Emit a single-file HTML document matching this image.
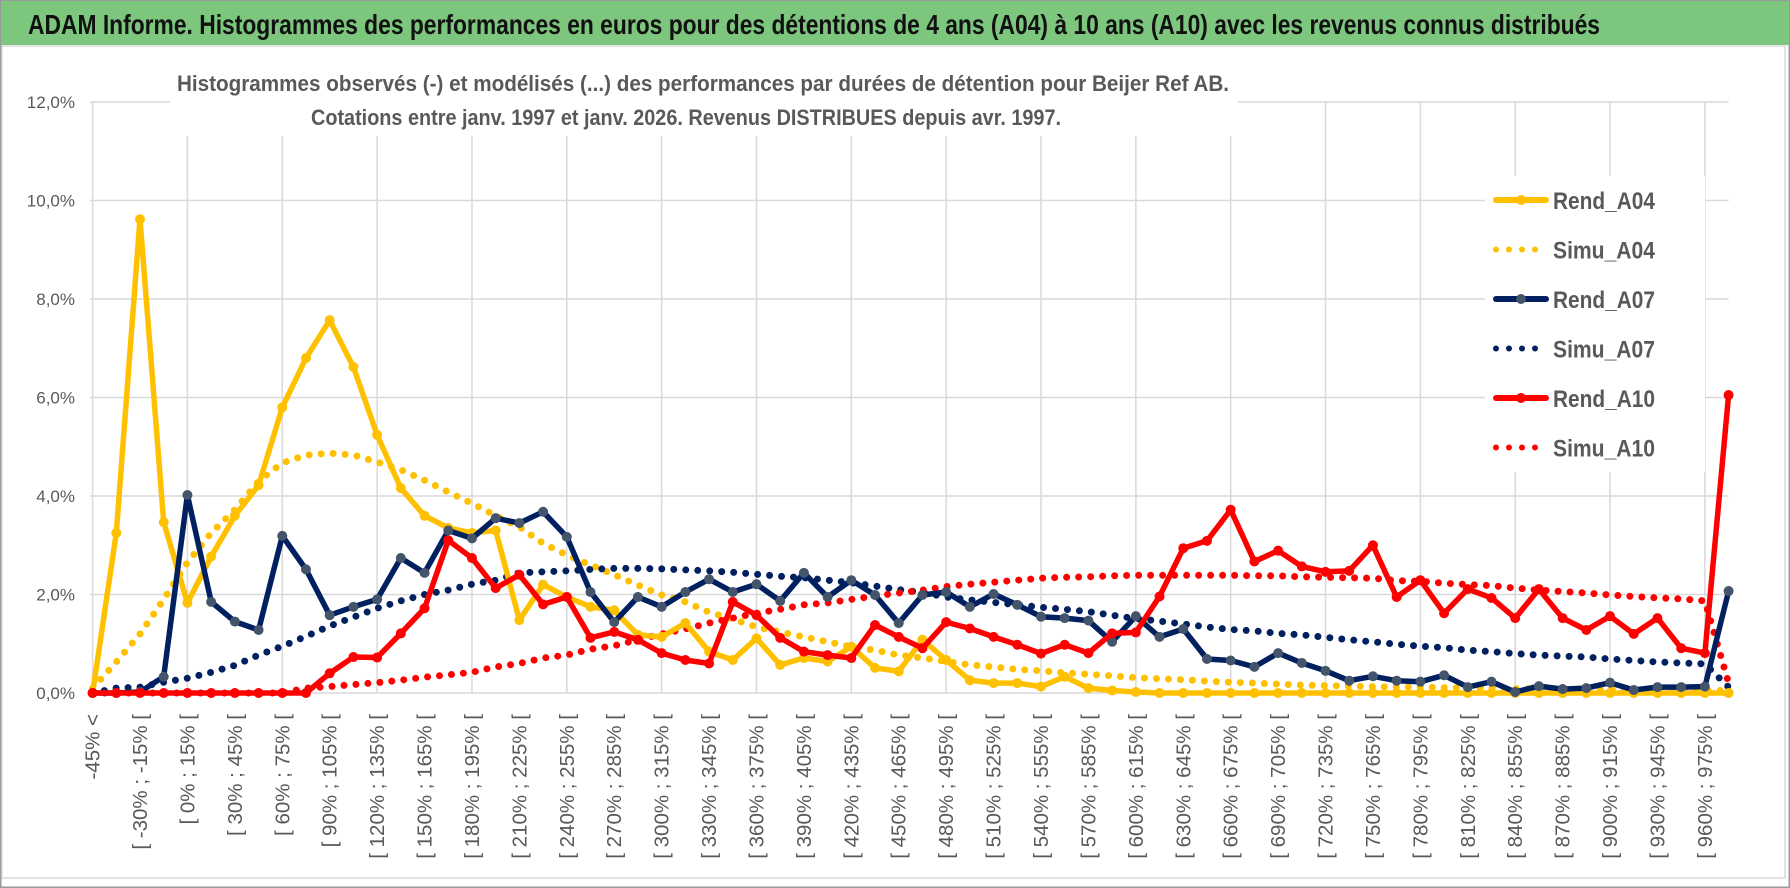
<!DOCTYPE html>
<html><head><meta charset="utf-8"><style>
html,body{margin:0;padding:0;background:#fff;}
svg{display:block;font-family:"Liberation Sans Narrow","Liberation Sans",sans-serif;}
</style></head><body>
<svg id="chart" width="1790" height="888" viewBox="0 0 1790 888" xmlns="http://www.w3.org/2000/svg">
<rect x="0.5" y="0.5" width="1789" height="887" fill="#fff" stroke="#9a9a9a" stroke-width="2"/>
<rect x="1" y="1" width="1788" height="44" fill="#7dc67e"/>
<text x="28" y="34" font-size="28" font-weight="bold" fill="#111" textLength="1572" lengthAdjust="spacingAndGlyphs">ADAM Informe. Histogrammes des performances en euros pour des détentions de 4 ans (A04) à 10 ans (A10) avec les revenus connus distribués</text>
<rect x="2" y="46" width="1783" height="832" fill="#fff" stroke="#d9d9d9" stroke-width="1.5"/>
<g id="grid"></g>
<rect x="170" y="62" width="1068" height="74" fill="#fff"/>
<text x="703" y="91" text-anchor="middle" font-size="22" font-weight="bold" fill="#595959" textLength="1052" lengthAdjust="spacingAndGlyphs">Histogrammes observés (-) et modélisés (...) des performances par durées de détention pour Beijer Ref AB.</text>
<text x="686" y="125" text-anchor="middle" font-size="22" font-weight="bold" fill="#595959" textLength="750" lengthAdjust="spacingAndGlyphs">Cotations entre janv. 1997 et janv. 2026. Revenus DISTRIBUES depuis avr. 1997.</text>
<g id="axes"></g>
<g id="series"></g>
<rect x="1485" y="176" width="220" height="296" fill="#fff"/>
<g id="legend"></g>
</svg>
<script>
const categories = ["-45% <","[ -45% ; -30% [","[ -30% ; -15% [","[ -15% ; 0% [","[ 0% ; 15% [","[ 15% ; 30% [","[ 30% ; 45% [","[ 45% ; 60% [","[ 60% ; 75% [","[ 75% ; 90% [","[ 90% ; 105% [","[ 105% ; 120% [","[ 120% ; 135% [","[ 135% ; 150% [","[ 150% ; 165% [","[ 165% ; 180% [","[ 180% ; 195% [","[ 195% ; 210% [","[ 210% ; 225% [","[ 225% ; 240% [","[ 240% ; 255% [","[ 255% ; 270% [","[ 270% ; 285% [","[ 285% ; 300% [","[ 300% ; 315% [","[ 315% ; 330% [","[ 330% ; 345% [","[ 345% ; 360% [","[ 360% ; 375% [","[ 375% ; 390% [","[ 390% ; 405% [","[ 405% ; 420% [","[ 420% ; 435% [","[ 435% ; 450% [","[ 450% ; 465% [","[ 465% ; 480% [","[ 480% ; 495% [","[ 495% ; 510% [","[ 510% ; 525% [","[ 525% ; 540% [","[ 540% ; 555% [","[ 555% ; 570% [","[ 570% ; 585% [","[ 585% ; 600% [","[ 600% ; 615% [","[ 615% ; 630% [","[ 630% ; 645% [","[ 645% ; 660% [","[ 660% ; 675% [","[ 675% ; 690% [","[ 690% ; 705% [","[ 705% ; 720% [","[ 720% ; 735% [","[ 735% ; 750% [","[ 750% ; 765% [","[ 765% ; 780% [","[ 780% ; 795% [","[ 795% ; 810% [","[ 810% ; 825% [","[ 825% ; 840% [","[ 840% ; 855% [","[ 855% ; 870% [","[ 870% ; 885% [","[ 885% ; 900% [","[ 900% ; 915% [","[ 915% ; 930% [","[ 930% ; 945% [","[ 945% ; 960% [","[ 960% ; 975% [","> 975%"];
const yTicks = [0,2,4,6,8,10,12];
const yTickLabels = ["0,0%","2,0%","4,0%","6,0%","8,0%","10,0%","12,0%"];
const rendA04 = [0,3.25,9.62,3.47,1.83,2.77,3.6,4.22,5.8,6.8,7.57,6.62,5.24,4.16,3.6,3.35,3.25,3.3,1.48,2.2,1.95,1.75,1.68,1.18,1.14,1.42,0.84,0.67,1.11,0.57,0.71,0.64,0.94,0.51,0.44,1.08,0.67,0.26,0.2,0.2,0.13,0.33,0.1,0.05,0.02,0,0,0,0,0,0,0,0,0,0,0,0,0,0,0,0,0,0,0,0,0,0,0,0,0];
const simuA04 = [0.1,0.63,1.2,1.9,2.65,3.25,3.72,4.3,4.67,4.83,4.87,4.83,4.69,4.53,4.32,4.08,3.85,3.6,3.37,3.04,2.8,2.6,2.4,2.19,1.99,1.85,1.64,1.5,1.34,1.24,1.14,1.04,0.94,0.87,0.77,0.71,0.64,0.57,0.53,0.48,0.45,0.41,0.38,0.35,0.31,0.29,0.27,0.24,0.22,0.2,0.18,0.16,0.15,0.14,0.13,0.12,0.12,0.11,0.1,0.1,0.09,0.09,0.08,0.08,0.07,0.07,0.06,0.06,0.05,0.05];
const rendA07 = [0,0,0.02,0.33,4.02,1.85,1.45,1.28,3.19,2.51,1.58,1.75,1.9,2.74,2.44,3.3,3.14,3.55,3.45,3.68,3.17,2.05,1.44,1.95,1.75,2.05,2.31,2.05,2.21,1.87,2.44,1.95,2.29,1.99,1.42,1.99,2.05,1.75,2.01,1.79,1.55,1.52,1.47,1.04,1.56,1.14,1.3,0.69,0.66,0.53,0.81,0.61,0.45,0.25,0.34,0.25,0.23,0.36,0.12,0.23,0.02,0.14,0.08,0.1,0.21,0.06,0.12,0.12,0.13,2.07];
const simuA07 = [0,0.1,0.12,0.22,0.3,0.42,0.56,0.77,0.95,1.15,1.36,1.54,1.72,1.87,2.0,2.09,2.21,2.29,2.44,2.46,2.48,2.51,2.53,2.53,2.52,2.5,2.48,2.45,2.41,2.37,2.34,2.29,2.24,2.17,2.1,2.04,1.95,1.89,1.84,1.79,1.74,1.7,1.65,1.58,1.51,1.46,1.4,1.34,1.29,1.26,1.21,1.18,1.13,1.08,1.04,0.99,0.95,0.92,0.87,0.84,0.8,0.77,0.75,0.73,0.69,0.66,0.63,0.61,0.59,0.12];
const rendA10 = [0,0,0,0,0,0,0,0,0,0,0.4,0.73,0.72,1.21,1.72,3.1,2.74,2.13,2.4,1.8,1.95,1.12,1.24,1.08,0.81,0.67,0.6,1.85,1.58,1.12,0.84,0.77,0.71,1.38,1.14,0.91,1.44,1.31,1.14,0.98,0.8,0.98,0.81,1.21,1.23,1.96,2.94,3.09,3.72,2.67,2.89,2.57,2.46,2.48,3.0,1.95,2.29,1.62,2.11,1.93,1.52,2.11,1.52,1.28,1.56,1.2,1.52,0.91,0.81,6.05];
const simuA10 = [0,0,0,0,0,0,0,0,0,0.1,0.13,0.17,0.21,0.26,0.32,0.37,0.42,0.53,0.6,0.71,0.77,0.89,0.96,1.08,1.2,1.3,1.42,1.52,1.62,1.7,1.79,1.83,1.9,1.97,2.03,2.09,2.16,2.21,2.25,2.29,2.33,2.35,2.36,2.38,2.39,2.39,2.39,2.39,2.39,2.38,2.38,2.36,2.35,2.34,2.33,2.28,2.27,2.23,2.2,2.18,2.13,2.09,2.06,2.03,1.99,1.96,1.93,1.91,1.87,0.2];

const NS = "http://www.w3.org/2000/svg";
const X0 = 92.6, DX = 23.71, Y0 = 693, PER = 49.25;
function xPos(i){ return X0 + DX * i; }
function yPos(v){ return Y0 - PER * v; }
function mk(tag, attrs, parent){
  const e = document.createElementNS(NS, tag);
  for (const k in attrs) e.setAttribute(k, attrs[k]);
  parent.appendChild(e);
  return e;
}
const grid = document.getElementById('grid');
const axes = document.getElementById('axes');
const series = document.getElementById('series');
const legend = document.getElementById('legend');
const xRight = xPos(categories.length - 1);

yTicks.forEach((t, k) => {
  const l = mk('line', {x1: 90, x2: xRight, y1: yPos(t), y2: yPos(t), stroke: '#d9d9d9', 'stroke-width': 1.5}, grid);
  
  
  const tx = mk('text', {x: 75, y: yPos(t) + 6, 'text-anchor': 'end', 'font-size': 17, fill: '#595959', 'font-family': '"Liberation Sans Narrow","Liberation Sans",sans-serif'}, axes);
  tx.textContent = yTickLabels[k];
  
  
});
for (let i = 0; i < categories.length; i += 4) {
  const l = mk('line', {x1: xPos(i), x2: xPos(i), y1: yPos(12), y2: Y0, stroke: '#d9d9d9', 'stroke-width': 1.5}, grid);
  
  
}
for (let i = 0; i < categories.length; i += 2) {
  const x = xPos(i);
  const tx = mk('text', {x: 0, y: 0, transform: 'translate(' + (x + 7) + ',714) rotate(-90)', 'text-anchor': 'end', 'font-size': 20.5, fill: '#595959', 'font-family': '"Liberation Sans",sans-serif'}, axes);
  tx.textContent = categories[i];
  
  
}

function pts(arr){ return arr.map((v, i) => xPos(i).toFixed(1) + ',' + yPos(v).toFixed(1)).join(' '); }
function dotted(arr, color, name){
  const p = mk('polyline', {points: pts(arr), fill: 'none', stroke: color, 'stroke-width': 7, 'stroke-linecap': 'round', 'stroke-dasharray': '0 12'}, series);
  
  
}
function solid(arr, color, mcolor, name){
  const g = mk('g', {}, series);
  
  
  mk('polyline', {points: pts(arr), fill: 'none', stroke: color, 'stroke-width': 5.5, 'stroke-linejoin': 'round'}, g);
  arr.forEach((v, i) => {
    const c = mk('circle', {cx: xPos(i), cy: yPos(v), r: 5, fill: mcolor}, g);
    
    
  });
}
dotted(simuA04, '#ffc000', 'simu-a04-line');
dotted(simuA07, '#002060', 'simu-a07-line');
dotted(simuA10, '#ff0000', 'simu-a10-line');
solid(rendA04, '#ffc000', '#ffc000', 'rend-a04-line');
solid(rendA07, '#002060', '#44546a', 'rend-a07-line');
solid(rendA10, '#ff0000', '#ff0000', 'rend-a10-line');

const legendItems = [["Rend_A04","#ffc000","#ffc000",false],["Simu_A04","#ffc000","#ffc000",true],["Rend_A07","#002060","#44546a",false],["Simu_A07","#002060","#002060",true],["Rend_A10","#ff0000","#ff0000",false],["Simu_A10","#ff0000","#ff0000",true]];
legendItems.forEach((it, k) => {
  const y = 200 + k * 49.5;
  const g = mk('g', {}, legend);
  
  
  if (it[3]) {
    mk('line', {x1: 1496, x2: 1546, y1: y, y2: y, stroke: it[1], 'stroke-width': 6, 'stroke-linecap': 'round', 'stroke-dasharray': '0 13'}, g);
  } else {
    mk('line', {x1: 1496, x2: 1546, y1: y, y2: y, stroke: it[1], 'stroke-width': 6, 'stroke-linecap': 'round'}, g);
    mk('circle', {cx: 1521, cy: y, r: 5, fill: it[2]}, g);
  }
  const t = mk('text', {x: 1553, y: y + 9, 'font-size': 24, 'font-weight': 'bold', fill: '#595959', textLength: 102, lengthAdjust: 'spacingAndGlyphs'}, g);
  t.textContent = it[0];
});
</script>
</body></html>
